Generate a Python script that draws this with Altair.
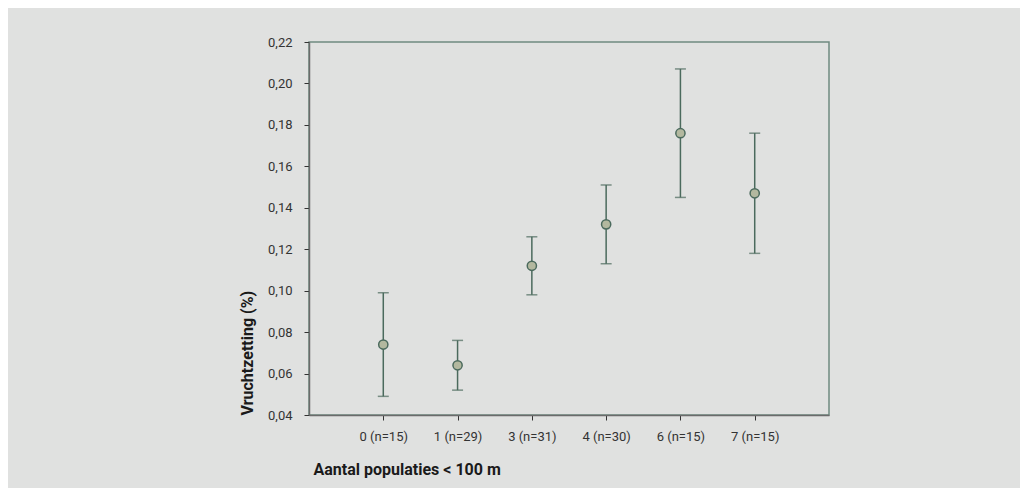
import altair as alt
import pandas as pd

categories = ["0 (n=15)", "1 (n=29)", "3 (n=31)", "4 (n=30)", "6 (n=15)", "7 (n=15)"]
means = [0.074, 0.064, 0.112, 0.132, 0.176, 0.147]
lows = [0.049, 0.052, 0.098, 0.113, 0.145, 0.118]
highs = [0.099, 0.076, 0.126, 0.151, 0.207, 0.176]

df = pd.DataFrame({"cat": categories, "mean": means, "lo": lows, "hi": highs})

FONT = "Roboto"
LINE = "#4b6a5d"

x = alt.X(
    "cat:N",
    sort=categories,
    scale=alt.Scale(type="point", padding=1),
    axis=alt.Axis(
        title="Aantal populaties < 100 m",
        labelAngle=0,
        labelFont=FONT,
        labelFontSize=13,
        labelColor="#333333",
        labelPadding=10,
        tickSize=5,
        tickColor="#333333",
        domainColor="#6b6b6b",
        domainWidth=1.5,
        titleFont=FONT,
        titleFontSize=16,
        titleFontWeight="bold",
        titleColor="#1a1a1a",
        titleAnchor="start",
        titleAlign="left",
        titleBaseline="middle",
        titleX=4,
        titleY=54,
        grid=False,
    ),
)

yscale = alt.Scale(domain=[0.04, 0.22], nice=False, zero=False)
yaxis = alt.Axis(
    title="Vruchtzetting (%)",
    values=[0.04, 0.06, 0.08, 0.10, 0.12, 0.14, 0.16, 0.18, 0.20, 0.22],
    labelExpr="replace(format(datum.value, '.2f'), '.', ',')",
    labelFont=FONT,
    labelFontSize=13,
    labelColor="#333333",
    labelPadding=12,
    tickSize=5,
    tickColor="#333333",
    domainColor="#6b6b6b",
    domainWidth=1.5,
    titleFont=FONT,
    titleFontSize=16,
    titleFontWeight="bold",
    titleColor="#1a1a1a",
    titleAnchor="start",
    titlePadding=12,
    grid=False,
)

base = alt.Chart(df)

bars = base.mark_errorbar(ticks=alt.MarkConfig(size=11, color=LINE, strokeWidth=1.5), color=LINE, thickness=1.5).encode(
    x=x,
    y=alt.Y("lo:Q", scale=yscale, axis=yaxis),
    y2="hi:Q",
)

points = base.mark_point(
    shape="circle", filled=True, size=85, fill="#b3b89f", stroke=LINE, strokeWidth=1.5, opacity=1
).encode(
    x=x,
    y=alt.Y("mean:Q", scale=yscale, axis=yaxis),
)

chart = (
    alt.layer(bars, points)
    .properties(
        width=520,
        height=373,
        background="#e0e1e0",
        autosize=alt.AutoSizeParams(type="none"),
        padding={"left": 301, "top": 34, "right": 191, "bottom": 73},
    )
    .configure_view(stroke="#6f8a80", strokeWidth=1.5, fill="#e0e1e0")
)

chart.save("out.html", embed_options={"renderer": "svg", "actions": False})
